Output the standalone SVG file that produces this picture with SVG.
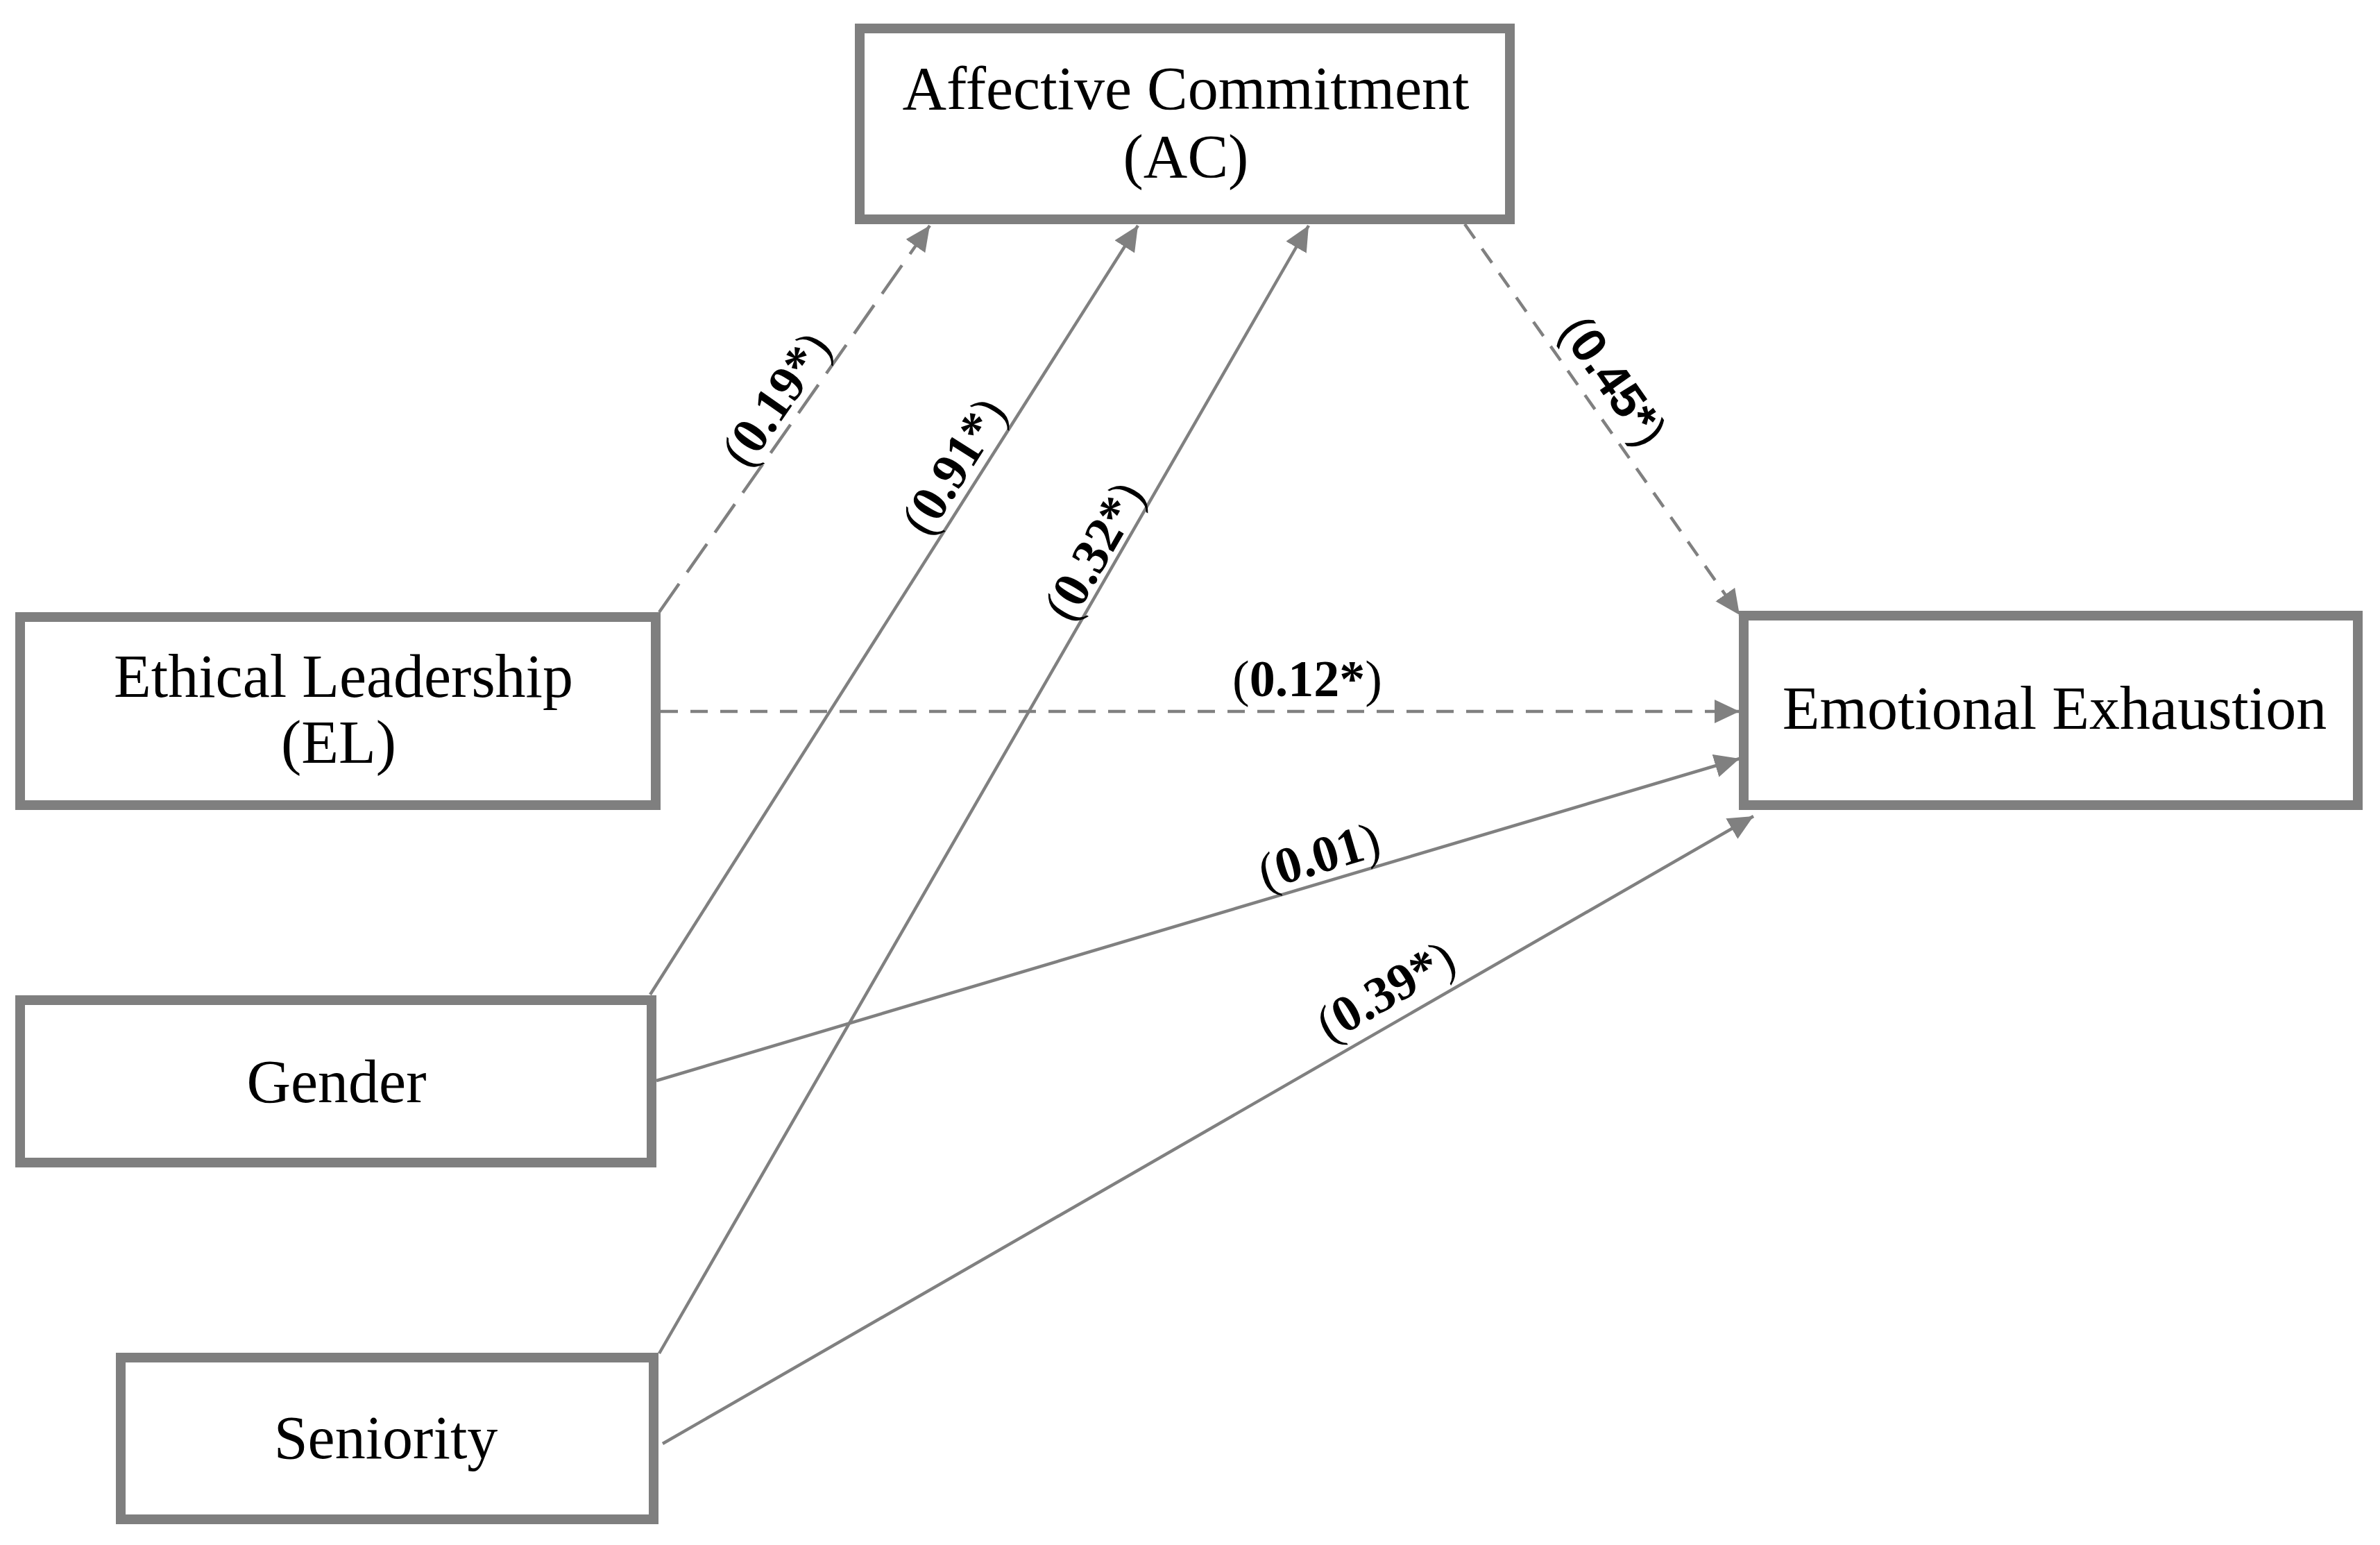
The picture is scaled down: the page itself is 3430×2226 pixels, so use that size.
<svg xmlns="http://www.w3.org/2000/svg" width="3430" height="2226" viewBox="0 0 3430 2226">
<style>
.box{fill:#ffffff;stroke:#7f7f7f;stroke-width:14}
.nt{font-family:"Liberation Serif","Times New Roman",serif;font-size:88px;fill:#000;text-anchor:middle}
.ln{fill:none;stroke:#808080;stroke-width:4.5}
.dl{stroke-dasharray:50 20}
.ds{stroke-dasharray:25 18}
.lb{font-family:"Liberation Serif","Times New Roman",serif;font-size:74px;fill:#000;text-anchor:middle}
.lbs{font-family:"Liberation Sans",Arial,sans-serif;font-size:70px;fill:#000;text-anchor:middle}
.b{font-weight:bold}
</style>
<defs>
<marker id="ah" markerUnits="userSpaceOnUse" markerWidth="40" markerHeight="36" refX="36" refY="17" orient="auto" viewBox="0 0 40 36">
<path d="M0,0 L36,17 L0,34 z" fill="#808080"/>
</marker>
</defs>
<rect width="3430" height="2226" fill="#ffffff"/>
<g id="connectors">
<line class="ln dl" x1="950" y1="882" x2="1340" y2="325" marker-end="url(#ah)"/>
<line class="ln" x1="937" y1="1433" x2="1640" y2="325" marker-end="url(#ah)"/>
<line class="ln" x1="950" y1="1950" x2="1886" y2="325" marker-end="url(#ah)"/>
<line class="ln ds" x1="2111" y1="323" x2="2507" y2="886" marker-end="url(#ah)"/>
<line class="ln ds" x1="952" y1="1025" x2="2507" y2="1025" marker-end="url(#ah)"/>
<line class="ln" x1="946" y1="1557" x2="2507" y2="1093" marker-end="url(#ah)"/>
<line class="ln" x1="955" y1="2080" x2="2527" y2="1176" marker-end="url(#ah)"/>
</g>
<g id="labels">
<text class="lb" transform="translate(1150,597) rotate(-55)" y="-14">(<tspan class="b">0.19*</tspan>)</text>
<text class="lb" transform="translate(1407,692) rotate(-57.65)" y="-14">(<tspan class="b">0.91*</tspan>)</text>
<text class="lb" transform="translate(1605,810) rotate(-60.1)" y="-8">(<tspan class="b">0.32*</tspan>)</text>
<text class="lbs" transform="translate(2288,575) rotate(54.9)" y="-22">(<tspan class="b">0.45*</tspan>)</text>
<text class="lb" x="1884" y="1003">(<tspan class="b">0.12*</tspan>)</text>
<text class="lb" transform="translate(1912,1270) rotate(-16.55)" y="-14">(<tspan class="b">0.01</tspan>)</text>
<text class="lb" transform="translate(2020,1468) rotate(-29.9)" y="-22">(<tspan class="b">0.39*</tspan>)</text>
</g>
<g id="node-ac">
<rect class="box" x="1239" y="41" width="937" height="275"/>
<text class="nt" x="1709" y="157">Affective Commitment</text>
<text class="nt" x="1709" y="255">(AC)</text>
</g>
<g id="node-el">
<rect class="box" x="29" y="889" width="916" height="271"/>
<text class="nt" x="495" y="1004">Ethical Leadership</text>
<text class="nt" x="488" y="1099">(EL)</text>
</g>
<g id="node-ee">
<rect class="box" x="2513" y="887" width="885" height="273"/>
<text class="nt" x="2961" y="1050">Emotional Exhaustion</text>
</g>
<g id="node-gender">
<rect class="box" x="29" y="1441" width="910" height="234"/>
<text class="nt" x="485" y="1588">Gender</text>
</g>
<g id="node-seniority">
<rect class="box" x="174" y="1956" width="768" height="233"/>
<text class="nt" x="556" y="2101">Seniority</text>
</g>
</svg>
